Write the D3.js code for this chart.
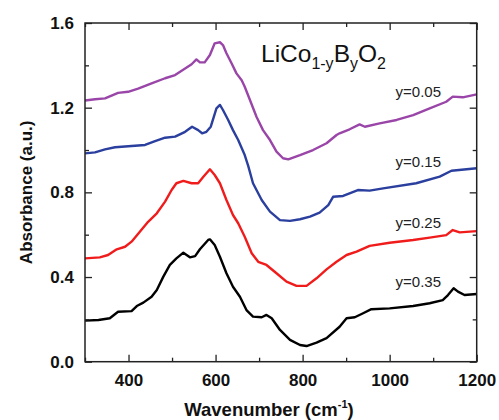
<!DOCTYPE html>
<html>
<head>
<meta charset="utf-8">
<script src="https://cdn.jsdelivr.net/npm/d3@7/dist/d3.min.js"></script>
<style>
  html, body { margin: 0; padding: 0; background: #fff; }
  svg { display: block; font-family: Arial, "Liberation Sans", sans-serif; }
</style>
</head>
<body>
<svg id="chart" width="499" height="420"></svg>
<script>
// FTIR absorbance spectra of LiCo(1-y)B(y)O2, offset vertically per composition
const wavenumbers05 = [300, 323, 346, 376, 399, 422, 453, 484, 507, 530, 545, 556, 564, 575, 587, 598, 610, 617, 625, 637, 648, 660, 667, 679, 694, 709, 725, 740, 755, 767, 794, 824, 855, 878, 885, 908, 931, 943, 977, 1016, 1054, 1092, 1130, 1145, 1168, 1200];
const absorb05 = [1.234, 1.240, 1.244, 1.270, 1.275, 1.290, 1.315, 1.339, 1.354, 1.385, 1.405, 1.428, 1.414, 1.414, 1.449, 1.504, 1.509, 1.496, 1.457, 1.409, 1.362, 1.330, 1.299, 1.236, 1.157, 1.094, 1.047, 0.992, 0.961, 0.956, 0.976, 1.000, 1.032, 1.071, 1.079, 1.098, 1.121, 1.110, 1.126, 1.142, 1.165, 1.197, 1.228, 1.252, 1.249, 1.263];

const wavenumbers15 = [300, 323, 346, 369, 407, 438, 461, 484, 507, 530, 546, 560, 569, 579, 589, 602, 610, 617, 629, 640, 652, 667, 675, 686, 706, 725, 748, 771, 794, 817, 839, 859, 870, 893, 927, 954, 985, 1061, 1115, 1142, 1200];
const absorb15 = [0.984, 0.989, 1.003, 1.013, 1.019, 1.024, 1.042, 1.058, 1.063, 1.086, 1.110, 1.094, 1.079, 1.086, 1.110, 1.197, 1.213, 1.189, 1.142, 1.094, 1.047, 0.976, 0.925, 0.843, 0.764, 0.709, 0.669, 0.665, 0.673, 0.685, 0.704, 0.740, 0.779, 0.783, 0.811, 0.808, 0.819, 0.843, 0.874, 0.902, 0.914];

const wavenumbers25 = [300, 334, 353, 373, 392, 407, 426, 445, 465, 484, 499, 510, 526, 545, 560, 572, 587, 598, 610, 625, 640, 652, 667, 683, 698, 717, 740, 763, 786, 809, 832, 855, 878, 901, 924, 954, 1000, 1054, 1092, 1130, 1145, 1161, 1200];
const absorb25 = [0.488, 0.493, 0.504, 0.531, 0.543, 0.567, 0.614, 0.661, 0.701, 0.756, 0.811, 0.843, 0.854, 0.843, 0.843, 0.874, 0.909, 0.882, 0.843, 0.764, 0.693, 0.654, 0.590, 0.512, 0.472, 0.457, 0.418, 0.378, 0.358, 0.358, 0.394, 0.436, 0.472, 0.504, 0.520, 0.547, 0.562, 0.575, 0.586, 0.598, 0.622, 0.611, 0.617];

const wavenumbers35 = [300, 331, 357, 376, 407, 419, 434, 453, 465, 480, 495, 510, 526, 541, 553, 564, 583, 587, 598, 610, 625, 640, 656, 671, 686, 706, 717, 729, 748, 771, 794, 809, 832, 855, 885, 901, 920, 939, 958, 1000, 1054, 1092, 1122, 1134, 1147, 1157, 1172, 1200];
const absorb35 = [0.194, 0.197, 0.205, 0.236, 0.239, 0.263, 0.279, 0.307, 0.339, 0.402, 0.457, 0.488, 0.515, 0.493, 0.499, 0.531, 0.575, 0.578, 0.551, 0.496, 0.418, 0.354, 0.307, 0.244, 0.213, 0.210, 0.221, 0.205, 0.150, 0.103, 0.079, 0.074, 0.090, 0.111, 0.165, 0.205, 0.210, 0.229, 0.248, 0.252, 0.263, 0.276, 0.291, 0.315, 0.347, 0.331, 0.315, 0.320];

const seriesLabels = ["y=0.05", "y=0.15", "y=0.25", "y=0.35"];
const seriesColors = ["#9a45a8", "#2a3f9e", "#f01c1c", "#000000"];
const xTicks = [400, 600, 800, 1000, 1200];
const yTicks = [0.0, 0.4, 0.8, 1.2, 1.6];

const series = [
  { label: seriesLabels[0], color: seriesColors[0], x: wavenumbers05, y: absorb05, labelY: 1.25 },
  { label: seriesLabels[1], color: seriesColors[1], x: wavenumbers15, y: absorb15, labelY: 0.92 },
  { label: seriesLabels[2], color: seriesColors[2], x: wavenumbers25, y: absorb25, labelY: 0.632 },
  { label: seriesLabels[3], color: seriesColors[3], x: wavenumbers35, y: absorb35, labelY: 0.353 }
];

const svg = d3.select("#chart");
const margin = { left: 85, right: 22.3, top: 23, bottom: 58.3 };
const W = 499, H = 420;
const plotW = W - margin.left - margin.right;
const plotH = H - margin.top - margin.bottom;

const x = d3.scaleLinear().domain([300, 1200]).range([margin.left, margin.left + plotW]);
const y = d3.scaleLinear().domain([0, 1.6]).range([margin.top + plotH, margin.top]);

svg.append("rect").attr("width", W).attr("height", H).attr("fill", "#fff");

// Clip the spectra to the plot box
svg.append("clipPath").attr("id", "plotClip")
  .append("rect")
  .attr("x", margin.left).attr("y", margin.top)
  .attr("width", plotW).attr("height", plotH);

const line = d3.line()
  .x(d => x(d[0]))
  .y(d => y(d[1]))
  .curve(d3.curveLinear);

const curves = svg.append("g").attr("clip-path", "url(#plotClip)");
series.forEach(s => {
  const pts = s.x.map((v, i) => [v, s.y[i]]);
  curves.append("path")
    .datum(pts)
    .attr("fill", "none")
    .attr("stroke", s.color)
    .attr("stroke-width", 2.4)
    .attr("stroke-linejoin", "round")
    .attr("d", line);
});

// Axes: ticks point inward on all four sides
const xMinor = d3.range(300, 1201, 100).filter(v => !xTicks.includes(v));
const yMinor = d3.range(0.2, 1.6, 0.4).map(v => +v.toFixed(1));

function styleAxis(g) {
  g.select(".domain").remove();
  g.selectAll("line").attr("stroke", "#222").attr("stroke-width", 1.3);
  g.selectAll("text").attr("fill", "#111");
}

const fmt = d3.format(".1f");
const tickFont = "Arial, 'Liberation Sans', sans-serif";

svg.append("g")
  .attr("transform", `translate(0,${margin.top + plotH})`)
  .call(d3.axisBottom(x).tickValues(xTicks).tickSize(-7).tickPadding(12).tickFormat(d3.format("d")))
  .call(styleAxis)
  .selectAll("text").attr("font-size", 17).attr("font-weight", "bold").attr("font-family", tickFont);

svg.append("g")
  .attr("transform", `translate(0,${margin.top + plotH})`)
  .call(d3.axisBottom(x).tickValues(xMinor).tickSize(-4).tickFormat(""))
  .call(styleAxis);

svg.append("g")
  .attr("transform", `translate(0,${margin.top})`)
  .call(d3.axisTop(x).tickValues(xTicks).tickSize(-7).tickFormat(""))
  .call(styleAxis);

svg.append("g")
  .attr("transform", `translate(0,${margin.top})`)
  .call(d3.axisTop(x).tickValues(xMinor).tickSize(-4).tickFormat(""))
  .call(styleAxis);

svg.append("g")
  .attr("transform", `translate(${margin.left},0)`)
  .call(d3.axisLeft(y).tickValues(yTicks).tickSize(-7).tickPadding(11).tickFormat(fmt))
  .call(styleAxis)
  .selectAll("text").attr("font-size", 17).attr("font-weight", "bold").attr("font-family", tickFont);

svg.append("g")
  .attr("transform", `translate(${margin.left},0)`)
  .call(d3.axisLeft(y).tickValues(yMinor).tickSize(-4).tickFormat(""))
  .call(styleAxis);

svg.append("g")
  .attr("transform", `translate(${margin.left + plotW},0)`)
  .call(d3.axisRight(y).tickValues(yTicks).tickSize(-7).tickFormat(""))
  .call(styleAxis);

svg.append("g")
  .attr("transform", `translate(${margin.left + plotW},0)`)
  .call(d3.axisRight(y).tickValues(yMinor).tickSize(-4).tickFormat(""))
  .call(styleAxis);

// Plot frame
svg.append("rect")
  .attr("x", margin.left).attr("y", margin.top)
  .attr("width", plotW).attr("height", plotH)
  .attr("fill", "none").attr("stroke", "#222").attr("stroke-width", 1.5);

// Series labels at the right end of each spectrum
series.forEach(s => {
  svg.append("text")
    .attr("x", 441)
    .attr("y", y(s.labelY))
    .attr("text-anchor", "end")
    .attr("font-size", 15)
    .attr("fill", "#222")
    .text(s.label);
});

// Compound formula
const formula = svg.append("text")
  .attr("x", 261)
  .attr("y", 62)
  .attr("font-size", 24.5)
  .attr("fill", "#111");
formula.append("tspan").text("LiCo");
formula.append("tspan").attr("font-size", 16).attr("dy", 7).text("1-y");
formula.append("tspan").attr("dy", -7).text("B");
formula.append("tspan").attr("font-size", 16).attr("dy", 7).text("y");
formula.append("tspan").attr("dy", -7).text("O");
formula.append("tspan").attr("font-size", 16).attr("dy", 7).text("2");

// Axis titles
svg.append("text")
  .attr("transform", `translate(32,${margin.top + plotH / 2}) rotate(-90)`)
  .attr("text-anchor", "middle")
  .attr("font-size", 17)
  .attr("font-weight", "bold")
  .attr("fill", "#111")
  .text("Absorbance (a.u.)");

const xTitle = svg.append("text")
  .attr("x", 269)
  .attr("y", 416)
  .attr("text-anchor", "middle")
  .attr("font-size", 18.5)
  .attr("font-weight", "bold")
  .attr("fill", "#111");
xTitle.append("tspan").text("Wavenumber (cm");
xTitle.append("tspan").attr("font-size", 11).attr("dy", -8).text("-1");
xTitle.append("tspan").attr("dy", 8).text(")");
</script>
</body>
</html>
